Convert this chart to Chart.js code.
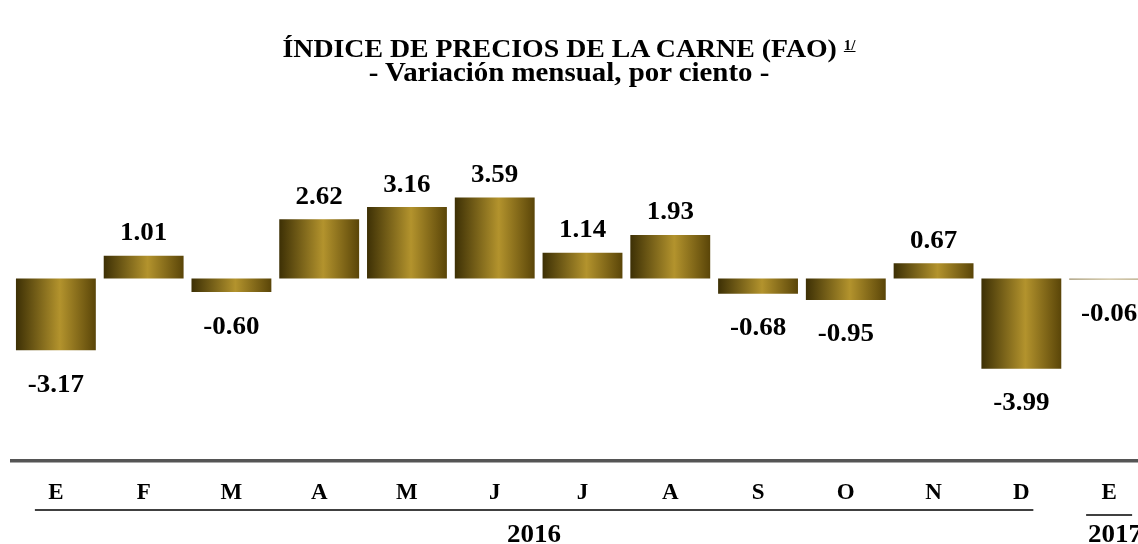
<!DOCTYPE html>
<html>
<head>
<meta charset="utf-8">
<script src="https://cdn.jsdelivr.net/npm/chart.js@4.4.1/dist/chart.umd.min.js"></script>
<style>
  html, body { margin:0; padding:0; background:#fff; overflow:hidden; width:1138px; height:544px; }
  .t { position:absolute; left:0; width:1138px; text-align:center; white-space:nowrap;
    font-family:"Liberation Serif","Times New Roman",serif; font-weight:bold; color:#000; }
  #t1 { top:35px; font-size:26px; line-height:28px; transform:scaleX(1.07); }
  #t2 { top:58px; font-size:27px; line-height:28px; transform:scaleX(1.07); }
  #t1 sup { font-size:14px; vertical-align:top; position:relative; top:-3px; }
  #wrap { position:absolute; left:0; top:0; width:1160px; height:544px; }
</style>
</head>
<body>
<div id="wrap"><canvas id="c" width="1160" height="544"></canvas></div>
<div class="t" id="t1">ÍNDICE DE PRECIOS DE LA CARNE (FAO) <sup><u>1/</u></sup></div>
<div class="t" id="t2">- Variación mensual, por ciento -</div>
<script>
const months = ["E","F","M","A","M","J","J","A","S","O","N","D","E"];
const values = [-3.17, 1.01, -0.60, 2.62, 3.16, 3.59, 1.14, 1.93, -0.68, -0.95, 0.67, -3.99, -0.06];
const years = [{label:"2016", from:0, to:11}, {label:"2017", from:12, to:12}];

const FONT = '"Liberation Serif","Times New Roman",serif';

function barGradient(ctx) {
  const chart = ctx.chart;
  const xs = chart.scales.x;
  if (!xs || !chart.chartArea || ctx.dataIndex === undefined) return '#8a6d12';
  const cx = xs.getPixelForValue(ctx.dataIndex);
  const w = (xs.width / months.length) * 0.91;
  const g = chart.ctx.createLinearGradient(cx - w/2, 0, cx + w/2, 0);
  if (ctx.dataIndex === months.length - 1) {
    g.addColorStop(0, '#9c8f6a'); g.addColorStop(0.5, '#c9bb94'); g.addColorStop(1, '#a89a74');
  } else {
    g.addColorStop(0, '#3d3005');
    g.addColorStop(0.55, '#b3932d');
    g.addColorStop(1, '#5a4508');
  }
  return g;
}

const labelPlugin = {
  id: 'labels',
  afterDatasetsDraw(chart) {
    const c = chart.ctx;
    const meta = chart.getDatasetMeta(0);
    c.save();
    c.font = 'bold 25px ' + FONT;
    c.fillStyle = '#000';
    c.textAlign = 'center';
    c.textBaseline = 'middle';
    meta.data.forEach((el, i) => {
      const v = values[i];
      const y = v >= 0 ? el.y - 22 : el.y + 35;
      c.save();
      c.translate(el.x, y);
      c.scale(1.08, 1);
      c.fillText(v.toFixed(2), 0, 0);
      c.restore();
    });
    c.restore();
  },
  afterDraw(chart) {
    const c = chart.ctx;
    const xs = chart.scales.x;
    c.save();
    c.strokeStyle = '#000';
    c.lineWidth = 1.5;
    c.fillStyle = '#000';
    c.font = 'bold 25px ' + FONT;
    c.textAlign = 'center';
    c.textBaseline = 'middle';
    years.forEach((yr, k) => {
      const x0 = xs.getPixelForValue(yr.from) - (k === 0 ? 21 : 23);
      const x1 = xs.getPixelForValue(yr.to) + (k === 0 ? 12 : 23);
      const ly = k === 0 ? 510 : 515;
      c.beginPath(); c.moveTo(x0, ly); c.lineTo(x1, ly); c.stroke();
      c.save();
      c.translate((x0 + x1) / 2 + (k === 0 ? 0 : 6), 536);
      c.scale(1.08, 1);
      c.fillText(yr.label, 0, 0);
      c.restore();
    });
    c.restore();
  }
};

new Chart(document.getElementById('c'), {
  type: 'bar',
  data: {
    labels: months,
    datasets: [{
      data: values,
      backgroundColor: barGradient,
      borderWidth: 0,
      categoryPercentage: 1.0,
      barPercentage: 0.91
    }]
  },
  options: {
    responsive: false,
    animation: false,
    devicePixelRatio: 1,
    layout: { padding: { left: 12, right: 7, top: 100, bottom: 18 } },
    plugins: { legend: { display: false }, tooltip: { enabled: false }, title: { display: false } },
    scales: {
      x: {
        grid: { display: false, drawTicks: false },
        border: { display: true, color: '#555', width: 3.5 },
        ticks: { color: '#000', font: { family: FONT, size: 23, weight: 'bold' }, padding: 19, maxRotation: 0, autoSkip: false }
      },
      y: { display: false, min: -8.05, max: 7.9 }
    }
  },
  plugins: [labelPlugin]
});
</script>
</body>
</html>
